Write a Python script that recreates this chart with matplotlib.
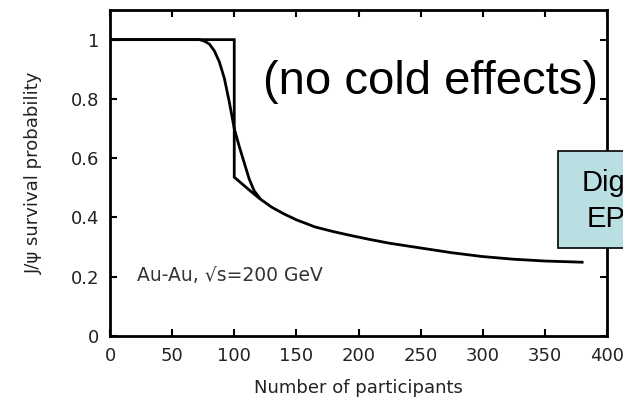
import matplotlib
matplotlib.use("Agg")
import matplotlib.pyplot as plt
from matplotlib.patches import Rectangle
import numpy as np

# Data
x_step = [0, 100, 100, 110, 120, 130, 140, 150, 165, 180, 195, 210, 225, 250, 275, 300, 325, 350, 380]
y_step = [1.0, 1.0, 0.536, 0.50, 0.465, 0.435, 0.412, 0.392, 0.368, 0.352, 0.338, 0.325, 0.313, 0.297, 0.281, 0.268, 0.259, 0.253, 0.249]

x_smooth = [0, 72, 76, 80, 84, 88, 92, 96, 100, 104, 108, 112, 116, 120]
y_smooth = [1.0, 1.0, 0.995, 0.985, 0.962, 0.925, 0.87, 0.79, 0.70, 0.64, 0.585, 0.53, 0.49, 0.468]

x_ticks = [0, 50, 100, 150, 200, 250, 300, 350, 400]
y_ticks = [0, 0.2, 0.4, 0.6, 0.8, 1]
y_ticklabels = ["0", "0.2", "0.4", "0.6", "0.8", "1"]

fig = plt.figure(figsize=(6.23, 3.99), dpi=100)
ax = fig.add_axes([110/623, 63/399, 497/623, 326/399])

ax.plot(x_step, y_step, color="black", lw=2.0, solid_joinstyle="miter")
ax.plot(x_smooth, y_smooth, color="black", lw=2.0)

ax.set_xlim(0, 400)
ax.set_ylim(0, 1.1)
ax.set_xticks(x_ticks)
ax.set_yticks(y_ticks)
ax.set_yticklabels(y_ticklabels)
for s in ax.spines.values():
    s.set_linewidth(2.0)
ax.tick_params(direction="in", length=5, width=1.5, top=True, right=True,
               labelsize=13, labelcolor="#222222", pad=8)

ax.set_xlabel("Number of participants", fontsize=13, color="#222222", labelpad=10)
ax.set_ylabel("J/ψ survival probability", fontsize=13, color="#222222", labelpad=20)

ax.text(22, 0.205, "Au-Au, √s=200 GeV", fontsize=13.5, color="#333333", va="center", ha="left")

fig.text(263/623, 1 - 82/399, "(no cold effects)", fontsize=34, ha="left", va="center",
         color="black", family="Liberation Sans")

box = Rectangle((558/623, 1 - 248/399), 0.2, 97/399, transform=fig.transFigure,
                facecolor="#b9dfe3", edgecolor="black", lw=1.2, zorder=10)
fig.add_artist(box)
fig.text(582/623, 1 - 183/399, "Digitized", fontsize=21, ha="left", va="center", zorder=11,
         family="Liberation Sans")
fig.text(587/623, 1 - 219/399, "EPS", fontsize=21, ha="left", va="center", zorder=11,
         family="Liberation Sans")

fig.savefig("out.png", dpi=100)
